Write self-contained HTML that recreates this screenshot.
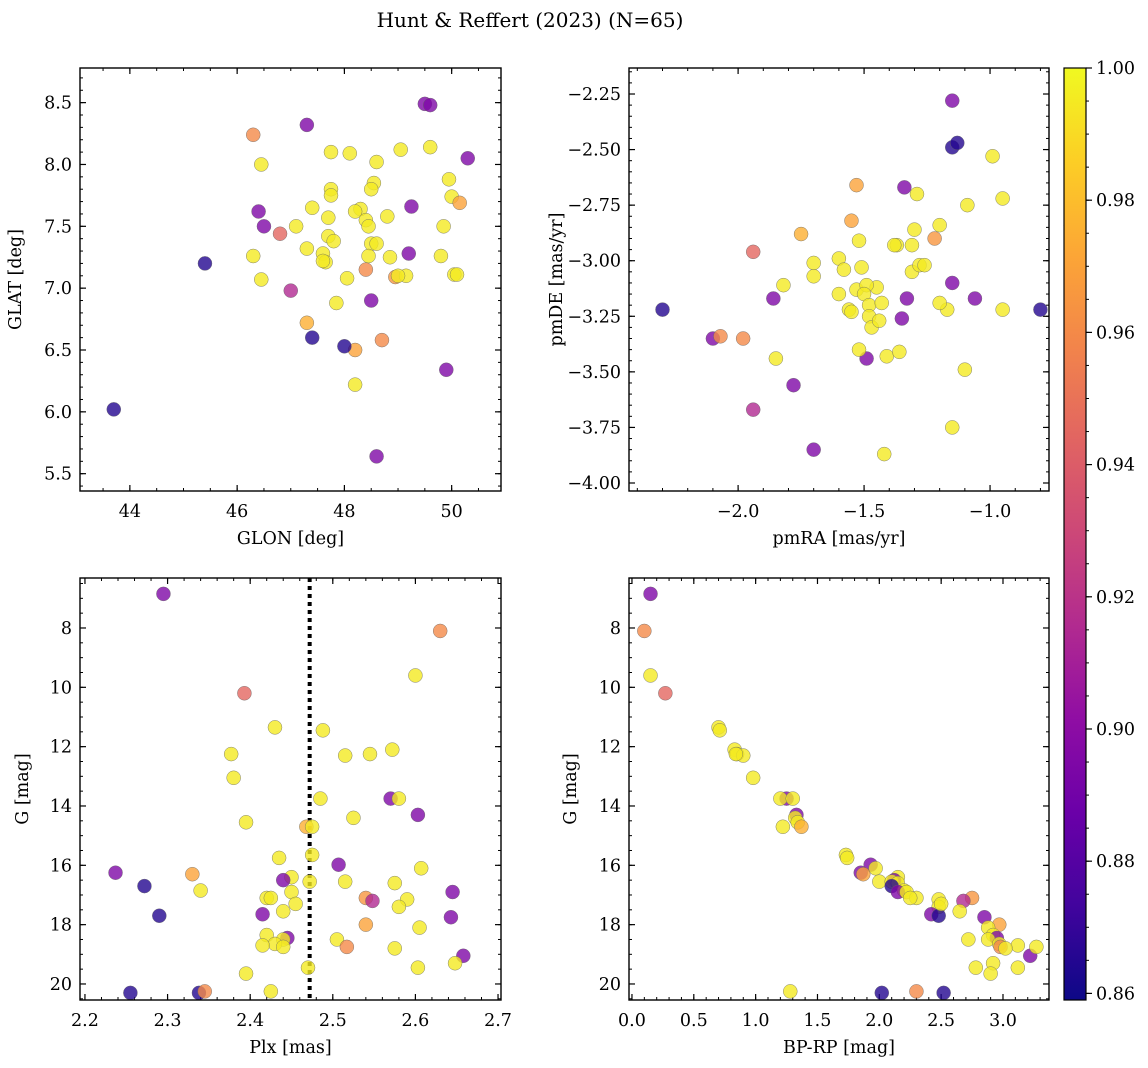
<!DOCTYPE html>
<html><head><meta charset="utf-8"><style>
html,body{margin:0;padding:0;background:#fff;}
svg{display:block;font-family:"DejaVu Serif","Liberation Serif",serif;}
</style></head><body>
<svg id="chart" width="1148" height="1068" viewBox="0 0 1148 1068" xmlns="http://www.w3.org/2000/svg">
<defs>
<linearGradient id="plasma" x1="0" y1="1" x2="0" y2="0">
<stop offset="0" stop-color="#0d0887"/><stop offset="0.1" stop-color="#41049d"/><stop offset="0.2" stop-color="#6a00a8"/><stop offset="0.3" stop-color="#8f0da4"/><stop offset="0.4" stop-color="#b12a90"/><stop offset="0.5" stop-color="#cc4778"/><stop offset="0.6" stop-color="#e16462"/><stop offset="0.7" stop-color="#f2844b"/><stop offset="0.8" stop-color="#fca636"/><stop offset="0.9" stop-color="#fcce25"/><stop offset="1" stop-color="#f0f921"/>
</linearGradient>
</defs>
<text x="530" y="27" font-size="20" text-anchor="middle">Hunt &amp; Reffert (2023) (N=65)</text>
</svg>
<script>
// ---- data (per star) ----
const prob = [0.895,0.96,0.945,0.995,0.995,0.995,0.995,0.995,0.995,0.995,0.995,0.895,0.995,0.995,0.895,0.995,0.995,0.975,0.995,0.995,0.995,0.895,0.995,0.895,0.97,0.995,0.895,0.995,0.995,0.995,0.865,0.995,0.895,0.995,0.995,0.995,0.965,0.995,0.915,0.995,0.995,0.895,0.865,0.895,0.97,0.995,0.995,0.895,0.995,0.995,0.995,0.995,0.96,0.995,0.895,0.995,0.995,0.995,0.995,0.865,0.865,0.96,0.995,0.995,0.995];
const plx = [2.295,2.63,2.393,2.60,2.43,2.488,2.572,2.377,2.515,2.545,2.38,2.57,2.58,2.485,2.603,2.525,2.395,2.468,2.475,2.475,2.435,2.507,2.607,2.237,2.33,2.45,2.44,2.472,2.515,2.575,2.272,2.34,2.645,2.45,2.42,2.425,2.54,2.59,2.548,2.58,2.44,2.415,2.29,2.643,2.54,2.605,2.42,2.445,2.44,2.505,2.43,2.415,2.517,2.575,2.658,2.648,2.47,2.603,2.395,2.255,2.338,2.345,2.425,2.455,2.44];
const gmag = [6.85,8.1,10.2,9.6,11.35,11.45,12.1,12.25,12.3,12.25,13.05,13.75,13.75,13.75,14.3,14.4,14.55,14.7,14.7,15.65,15.75,15.98,16.1,16.25,16.3,16.4,16.5,16.55,16.55,16.6,16.7,16.85,16.9,16.9,17.1,17.1,17.1,17.15,17.2,17.4,17.55,17.65,17.7,17.75,18.0,18.1,18.35,18.45,18.5,18.5,18.65,18.7,18.75,18.8,19.05,19.3,19.45,19.45,19.65,20.3,20.3,20.25,20.25,17.3,18.75];
const bprp = [0.15,0.1,0.27,0.15,0.7,0.71,0.83,0.85,0.9,0.84,0.98,1.25,1.2,1.3,1.33,1.32,1.34,1.37,1.22,1.73,1.74,1.93,1.97,1.85,1.87,2.15,2.12,2.0,2.1,2.15,2.1,2.2,2.15,2.22,2.3,2.25,2.75,2.48,2.68,2.48,2.65,2.42,2.48,2.85,2.97,2.88,2.92,2.95,2.72,2.88,2.97,3.12,2.98,3.02,3.22,2.92,3.12,2.78,2.9,2.02,2.52,2.3,1.28,2.5,3.27];
const glon = [47.3,46.3,46.8,46.45,47.75,48.1,49.05,49.6,48.6,47.75,47.75,49.5,48.55,48.5,49.6,49.95,47.4,47.3,48.3,48.2,47.7,46.4,48.8,46.5,48.2,50.0,49.25,48.4,48.45,47.1,43.7,49.85,48.5,46.3,47.7,47.8,48.95,48.5,47.0,48.6,47.3,48.6,47.4,49.9,50.15,47.6,47.65,50.3,48.45,48.85,49.8,46.45,48.4,48.05,49.2,49.15,50.05,47.85,48.2,48.0,45.4,48.7,50.1,49.0,47.6];
const glat = [8.32,8.24,7.44,8.0,8.1,8.09,8.12,8.14,8.02,7.8,7.75,8.49,7.85,7.8,8.48,7.88,7.65,6.72,7.64,7.62,7.57,7.62,7.58,7.5,6.5,7.74,7.66,7.55,7.5,7.5,6.02,7.5,6.9,7.26,7.42,7.38,7.09,7.36,6.98,7.36,7.32,5.64,6.6,6.34,7.69,7.28,7.21,8.05,7.26,7.25,7.26,7.07,7.15,7.08,7.28,7.1,7.11,6.88,6.22,6.53,7.2,6.58,7.11,7.1,7.22];
const pmra = [-1.15,-1.98,-1.94,-0.99,-1.29,-1.09,-0.95,-1.2,-1.3,-1.37,-1.31,-1.34,-1.52,-1.6,-2.1,-1.7,-1.82,-1.75,-1.7,-1.58,-1.51,-1.78,-1.31,-1.49,-1.53,-1.28,-1.35,-1.26,-1.15,-1.6,-2.3,-1.53,-1.15,-1.45,-1.49,-1.5,-1.22,-1.48,-1.94,-1.56,-1.55,-1.33,-1.15,-1.86,-1.55,-1.43,-1.17,-1.06,-0.95,-1.48,-1.47,-1.44,-2.07,-1.85,-1.7,-1.52,-1.41,-1.36,-1.1,-1.13,-0.8,-0.68,-1.42,-1.2,-1.38];
const pmde = [-2.28,-3.35,-2.96,-2.53,-2.7,-2.75,-2.72,-2.84,-2.86,-2.93,-2.93,-2.67,-2.91,-2.99,-3.35,-3.01,-3.11,-2.88,-3.07,-3.04,-3.03,-3.56,-3.05,-3.44,-2.66,-3.02,-3.26,-3.02,-3.75,-3.15,-3.22,-3.13,-3.1,-3.12,-3.11,-3.15,-2.9,-3.2,-3.67,-3.22,-3.23,-3.17,-2.49,-3.17,-2.82,-3.19,-3.22,-3.17,-3.22,-3.25,-3.3,-3.27,-3.34,-3.44,-3.85,-3.4,-3.43,-3.41,-3.49,-2.47,-3.22,-2.84,-3.87,-3.19,-2.93];
const cbTicks = [0.86,0.88,0.90,0.92,0.94,0.96,0.98,1.00];
const p1xTicks = [44,46,48,50], p1yTicks = [5.5,6.0,6.5,7.0,7.5,8.0,8.5];
const p2xTicks = [-2.0,-1.5,-1.0], p2yTicks = [-4.0,-3.75,-3.5,-3.25,-3.0,-2.75,-2.5,-2.25];
const p3xTicks = [2.2,2.3,2.4,2.5,2.6,2.7], gTicks = [8,10,12,14,16,18,20];
const p4xTicks = [0.0,0.5,1.0,1.5,2.0,2.5,3.0];
const plxCut = 2.472;

const svg = document.getElementById('chart');
const NS = 'http://www.w3.org/2000/svg';
const FS = 17.5;
function mk(tag, attrs, parent){const e=document.createElementNS(NS,tag);for(const k in attrs)e.setAttribute(k,attrs[k]);(parent||svg).appendChild(e);return e;}
const stops=[[13,8,135],[65,4,157],[106,0,168],[143,13,164],[177,42,144],[204,71,120],[225,100,98],[242,132,75],[252,166,54],[252,206,37],[240,249,33]];
const CMIN=0.859, CMAX=1.0;
function cmap(v){let t=(v-CMIN)/(CMAX-CMIN);t=Math.max(0,Math.min(1,t))*10;const i=Math.min(9,Math.floor(t)),f=t-i;const a=stops[i],b=stops[i+1];return 'rgb('+a.map((c,k)=>Math.round(c+(b[k]-c)*f)).join(',')+')';}
function fmt(v,d){return (v<0?'\u2212':'')+Math.abs(v).toFixed(d);}

function panel(o){
  const g=mk('g',{});
  
  
  const sx=v=>o.x0+(v-o.xmin)/(o.xmax-o.xmin)*(o.x1-o.x0);
  const sy=o.invert?(v=>o.y0+(v-o.ymin)/(o.ymax-o.ymin)*(o.y1-o.y0)):(v=>o.y1-(v-o.ymin)/(o.ymax-o.ymin)*(o.y1-o.y0));
  for(let v=Math.ceil(o.xmin/o.xminor)*o.xminor; v<=o.xmax; v+=o.xminor){const x=sx(v);mk('line',{x1:x,x2:x,y1:o.y1,y2:o.y1-3,stroke:'#000','stroke-width':1},g);mk('line',{x1:x,x2:x,y1:o.y0,y2:o.y0+3,stroke:'#000','stroke-width':1},g);}
  for(let v=Math.ceil(o.ymin/o.yminor)*o.yminor; v<=o.ymax; v+=o.yminor){const y=sy(v);mk('line',{x1:o.x0,x2:o.x0+3,y1:y,y2:y,stroke:'#000','stroke-width':1},g);mk('line',{x1:o.x1,x2:o.x1-3,y1:y,y2:y,stroke:'#000','stroke-width':1},g);}
  o.xt.forEach(v=>{const x=sx(v);mk('line',{x1:x,x2:x,y1:o.y1,y2:o.y1-6,stroke:'#000','stroke-width':1.2},g);mk('line',{x1:x,x2:x,y1:o.y0,y2:o.y0+6,stroke:'#000','stroke-width':1.2},g);
    const t=mk('text',{x:x,y:o.y1+26,'font-size':FS,'text-anchor':'middle'},g);t.textContent=fmt(v,o.xd);
    
    });
  o.yt.forEach(v=>{const y=sy(v);mk('line',{x1:o.x0,x2:o.x0+6,y1:y,y2:y,stroke:'#000','stroke-width':1.2},g);mk('line',{x1:o.x1,x2:o.x1-6,y1:y,y2:y,stroke:'#000','stroke-width':1.2},g);
    const t=mk('text',{x:o.x0-8,y:y+6,'font-size':FS,'text-anchor':'end'},g);t.textContent=fmt(v,o.yd);
    
    });
  const xl=mk('text',{x:(o.x0+o.x1)/2,y:o.y1+53,'font-size':FS,'text-anchor':'middle'},g);xl.textContent=o.xlabel;
  
  
  const yl=mk('text',{x:o.ylx,y:(o.y0+o.y1)/2,'font-size':FS,'text-anchor':'middle',transform:'rotate(-90 '+o.ylx+' '+((o.y0+o.y1)/2)+')'},g);yl.textContent=o.ylabel;
  
  
  if(o.vline!==undefined){const x=sx(o.vline);const l=mk('line',{x1:x,x2:x,y1:o.y0,y2:o.y1,stroke:'#000','stroke-width':4,'stroke-dasharray':'4,4'},g);
    
    }
  o.xs.forEach((xv,i)=>{const c=mk('circle',{cx:sx(xv),cy:sy(o.ys[i]),r:7,fill:cmap(prob[i]),'fill-opacity':0.8,stroke:'#666','stroke-width':0.4},g);
    
    });
  const fr=mk('rect',{x:o.x0,y:o.y0,width:o.x1-o.x0,height:o.y1-o.y0,fill:'none',stroke:'#000','stroke-width':1.4},g);
  
  
}
panel({name:'glon-glat-panel',x0:80,x1:501,y0:68,y1:491,xmin:43.07,xmax:50.92,ymin:5.36,ymax:8.78,xt:p1xTicks,yt:p1yTicks,xminor:0.5,yminor:0.1,xd:0,yd:1,xs:glon,ys:glat,xlabel:'GLON [deg]',ylabel:'GLAT [deg]',ylx:21});
panel({name:'pm-panel',x0:629,x1:1049,y0:68,y1:491,xmin:-2.433,xmax:-0.766,ymin:-4.036,ymax:-2.133,xt:p2xTicks,yt:p2yTicks,xminor:0.1,yminor:0.05,xd:1,yd:2,xs:pmra,ys:pmde,xlabel:'pmRA [mas/yr]',ylabel:'pmDE [mas/yr]',ylx:562});
panel({name:'plx-g-panel',x0:80,x1:501,y0:578,y1:1000,xmin:2.194,xmax:2.7036,ymin:6.315,ymax:20.54,invert:true,xt:p3xTicks,yt:gTicks,xminor:0.02,yminor:0.5,xd:1,yd:0,xs:plx,ys:gmag,xlabel:'Plx [mas]',ylabel:'G [mag]',ylx:28,vline:plxCut});
panel({name:'cmd-panel',x0:629,x1:1049,y0:578,y1:1000,xmin:-0.024,xmax:3.372,ymin:6.315,ymax:20.54,invert:true,xt:p4xTicks,yt:gTicks,xminor:0.1,yminor:0.5,xd:1,yd:0,xs:bprp,ys:gmag,xlabel:'BP-RP [mag]',ylabel:'G [mag]',ylx:576});
const cb=mk('g',{});


const CB={x0:1064,x1:1086,y0:68,y1:1000};
const cy=v=>CB.y1-(v-CMIN)/(CMAX-CMIN)*(CB.y1-CB.y0);
mk('rect',{x:CB.x0,y:CB.y0,width:CB.x1-CB.x0,height:CB.y1-CB.y0,fill:'url(#plasma)',stroke:'#000','stroke-width':1.2},cb);
for(let v=0.86;v<=1.0001;v+=0.005){const y=cy(v);mk('line',{x1:CB.x1,x2:CB.x1+3,y1:y,y2:y,stroke:'#000','stroke-width':1},cb);}
cbTicks.forEach(v=>{const y=cy(v);mk('line',{x1:CB.x1,x2:CB.x1+6,y1:y,y2:y,stroke:'#000','stroke-width':1.2},cb);
  const t=mk('text',{x:CB.x1+10,y:y+6,'font-size':FS},cb);t.textContent=v.toFixed(2);
  
  });
</script>
</body></html>
